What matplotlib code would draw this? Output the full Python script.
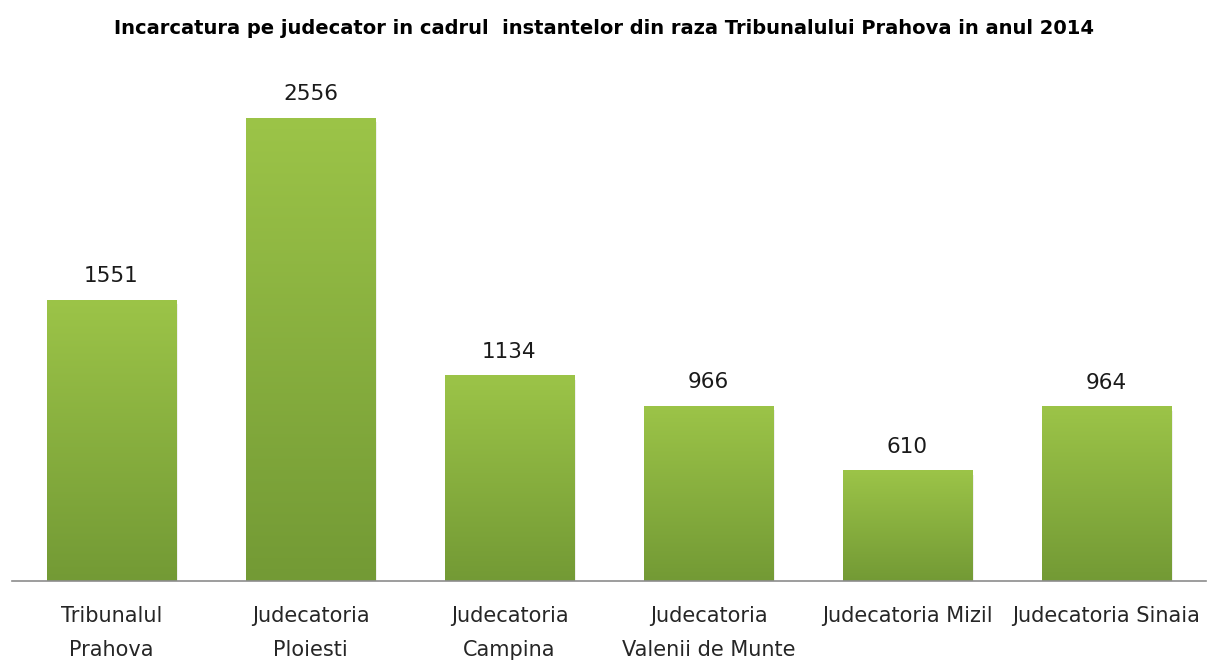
import numpy as np
import matplotlib.pyplot as plt
from matplotlib.colors import LinearSegmentedColormap

categories = ["Tribunalul\nPrahova", "Judecatoria\nPloiesti", "Judecatoria\nCampina",
              "Judecatoria\nValenii de Munte", "Judecatoria Mizil", "Judecatoria Sinaia"]
values = [1551, 2556, 1134, 966, 610, 964]
title = "Incarcatura pe judecator in cadrul  instantelor din raza Tribunalului Prahova in anul 2014"

plt.rcParams["font.family"] = ["DejaVu Sans"]

fig = plt.figure(figsize=(12.07, 6.61), dpi=100)
ax = fig.add_axes([12 / 1207, 80 / 661, 1194 / 1207, 544 / 661])

x = np.arange(len(values))
bars = ax.bar(x, values, width=0.65, color="#8ab33f", zorder=2)

grad = LinearSegmentedColormap.from_list("g", ["#739a35", "#9cc448"])
ramp = np.linspace(0, 1, 256).reshape(-1, 1)
for b in bars:
    x0, w, h = b.get_x(), b.get_width(), b.get_height()
    # soft shadow under each bar
    ax.bar(x0 + w / 2 + 0.006, h, width=w + 0.01, bottom=-25, color="#000000",
           alpha=0.06, zorder=1)
    im = ax.imshow(ramp, cmap=grad, origin="lower", aspect="auto",
                   extent=(x0, x0 + w, 0, h), zorder=3)
    im.set_clip_path(b)

for xi, v in zip(x, values):
    ax.text(xi, v + 75, str(v), ha="center", va="bottom", fontsize=15.5, color="#1a1a1a")

ax.set_xlim(-0.5, len(values) - 0.5)
ax.set_ylim(0, 3000)
ax.set_xticks(x)
ax.set_xticklabels(categories, fontsize=15, color="#262626", linespacing=1.85)
ax.tick_params(axis="x", length=0, pad=18)
ax.set_yticks([])
for s in ["top", "right", "left"]:
    ax.spines[s].set_visible(False)
ax.spines["bottom"].set_color("#8c8c8c")
ax.spines["bottom"].set_linewidth(1.2)
ax.spines["bottom"].set_zorder(4)

fig.text(0.5, 1 - 28 / 661, title, ha="center", va="center", fontsize=14,
         fontweight="bold", color="black")

fig.savefig("out.png", dpi=100)
